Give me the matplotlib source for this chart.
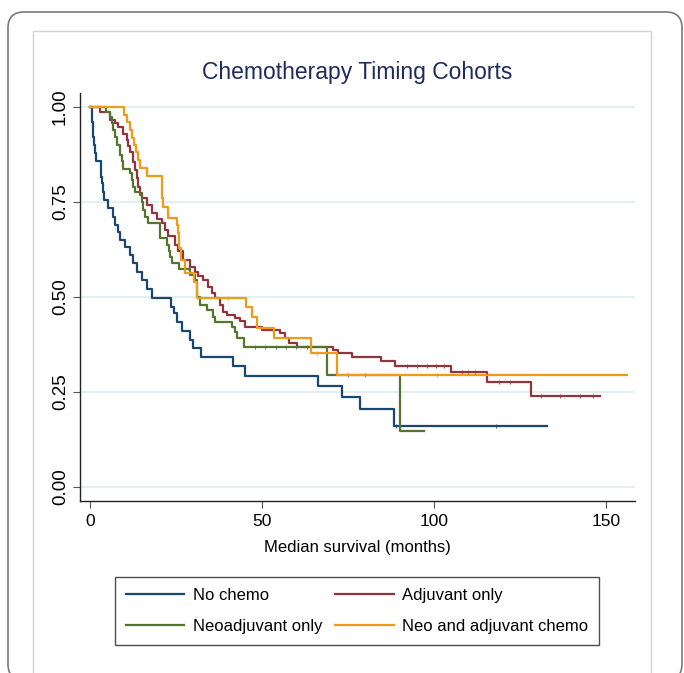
import matplotlib
matplotlib.use("Agg")
import matplotlib.pyplot as plt
from matplotlib.patches import FancyBboxPatch, Rectangle

plt.rcParams["font.family"] = ["Liberation Sans", "DejaVu Sans"]

# Kaplan-Meier step points (time in months, survival)
no_chemo_t = [0, 0.5, 0.8, 1.2, 1.5, 1.7, 3.1, 3.4, 3.9, 4.2, 5.3, 6.8, 7.3, 8.2, 8.7, 10.2,
              11.6, 12.6, 13.6, 15.0, 16.5, 18.0, 23.5, 24.5, 25.2, 26.6, 29.1, 30.0, 32.2,
              41.5, 45.0, 66.3, 73.2, 78.5, 88.4]
no_chemo_s = [1.0, 0.96, 0.92, 0.90, 0.88, 0.859, 0.817, 0.80, 0.777, 0.755, 0.734, 0.711,
              0.689, 0.672, 0.65, 0.632, 0.611, 0.589, 0.567, 0.545, 0.52, 0.497, 0.474,
              0.458, 0.435, 0.41, 0.387, 0.365, 0.342, 0.318, 0.292, 0.266, 0.238, 0.205,
              0.161]
no_chemo_end = 132.8
no_chemo_cens = [88.9, 118.0]

adj_t = [0, 2.9, 5.8, 7.3, 8.2, 9.5, 10.7, 11.1, 11.6, 12.6, 13.1, 13.6, 14.1, 14.6, 15.0,
         16.5, 17.9, 19.4, 20.8, 21.8, 22.8, 24.7, 25.7, 27.1, 29.1, 30.5, 31.5, 32.9, 34.4,
         35.4, 36.3, 37.8, 38.6, 39.7, 42.2, 43.6, 45.1, 49.9, 55.2, 56.7, 57.7, 60.1, 70.7,
         72.2, 76.1, 84.5, 88.7, 104.8, 115.5, 128.1]
adj_s = [1.0, 0.988, 0.967, 0.958, 0.948, 0.93, 0.913, 0.897, 0.882, 0.855, 0.834, 0.813,
         0.79, 0.773, 0.76, 0.742, 0.72, 0.706, 0.695, 0.676, 0.66, 0.637, 0.62, 0.597, 0.58,
         0.567, 0.556, 0.545, 0.527, 0.51, 0.497, 0.479, 0.461, 0.453, 0.445, 0.436, 0.422,
         0.413, 0.405, 0.392, 0.379, 0.369, 0.36, 0.352, 0.341, 0.331, 0.318, 0.302, 0.275,
         0.239]
adj_end = 148.3
adj_cens = [92.0, 95.0, 98.0, 100.5, 103.0, 108.0, 110.0, 112.0, 119.0, 122.0, 131.0,
            136.6, 142.4, 146.2]

neo_t = [0, 4.7, 5.8, 6.3, 6.8, 7.3, 7.8, 8.7, 9.2, 9.7, 11.6, 12.1, 12.6, 13.1, 14.5, 15.0,
         15.5, 16.0, 17.0, 20.3, 22.5, 23.0, 23.3, 23.7, 26.0, 29.1, 30.5, 31.0, 31.2, 32.0,
         33.9, 35.8, 36.3, 41.2, 42.2, 42.6, 44.8, 69.0, 90.1]
neo_s = [1.0, 0.988, 0.975, 0.958, 0.94, 0.922, 0.90, 0.874, 0.858, 0.837, 0.826, 0.808,
         0.79, 0.776, 0.768, 0.75, 0.729, 0.71, 0.695, 0.655, 0.637, 0.62, 0.606, 0.589,
         0.575, 0.558, 0.545, 0.52, 0.50, 0.479, 0.466, 0.448, 0.435, 0.422, 0.409, 0.392,
         0.369, 0.295, 0.147]
neo_end = 97.1
neo_cens = [48.0, 51.0, 54.0, 57.0, 60.0, 63.0, 75.0, 80.0]

both_t = [0, 10.0, 10.7, 11.6, 12.3, 12.8, 13.3, 14.0, 14.6, 16.5, 20.8, 21.3, 22.8, 25.2,
          25.6, 26.0, 26.5, 27.5, 30.2, 31.0, 45.3, 47.2, 48.6, 53.5, 64.2, 71.7]
both_s = [1.0, 0.979, 0.961, 0.939, 0.918, 0.90, 0.882, 0.861, 0.84, 0.818, 0.76, 0.738,
          0.709, 0.689, 0.668, 0.629, 0.597, 0.563, 0.54, 0.497, 0.474, 0.447, 0.419, 0.392,
          0.352, 0.295]
both_end = 156.0
both_cens = [40.0, 66.0, 100.8]

labels = ["No chemo", "Adjuvant only", "Neoadjuvant only", "Neo and adjuvant chemo"]
colors = ["#1a476f", "#90353b", "#55752f", "#f09a1a"]

W, H = 684, 673
fig = plt.figure(figsize=(W / 100, H / 100), dpi=100)

# card outline and inner panel
card = FancyBboxPatch((0.08, -0.07), 6.74, 6.68, boxstyle="round,pad=0,rounding_size=0.16",
                      transform=fig.dpi_scale_trans, fc="white", ec="#7a7a7a", lw=1.2, zorder=-2)
fig.add_artist(card)
panel = Rectangle((0.33, -0.1), 6.18, 6.52, transform=fig.dpi_scale_trans,
                  fc="white", ec="#d2d2d2", lw=1.0, zorder=-1)
fig.add_artist(panel)

ax = fig.add_axes([80 / W, 1 - 501 / H, 555 / W, 408 / H])
ax.set_facecolor("none")

series = [
    (no_chemo_t, no_chemo_s, no_chemo_end, no_chemo_cens),
    (adj_t, adj_s, adj_end, adj_cens),
    (neo_t, neo_s, neo_end, neo_cens),
    (both_t, both_s, both_end, both_cens),
]
handles = []
for (t, s, end, cens), lab, col in zip(series, labels, colors):
    tt = list(t) + [end]
    ss = list(s) + [s[-1]]
    h, = ax.step(tt, ss, where="post", color=col, lw=1.6, label=lab)
    handles.append(h)
    # censoring ticks: survival value at each censor time
    cy = []
    for c in cens:
        v = s[0]
        for ti, si in zip(t, s):
            if ti <= c:
                v = si
        cy.append(v)
    ax.plot(cens, cy, ls="none", marker="|", ms=3, mew=0.6, color=col)

ax.set_xlim(-2.9, 158.4)
ax.set_ylim(-0.037, 1.037)
ax.set_xticks([0, 50, 100, 150])
ax.set_yticks([0, 0.25, 0.5, 0.75, 1.0])
ax.set_yticklabels(["0.00", "0.25", "0.50", "0.75", "1.00"], rotation=90, va="center")
ax.grid(axis="y", color="#e6eef1", lw=1.5)
ax.set_axisbelow(True)
for side in ["top", "right"]:
    ax.spines[side].set_visible(False)
for side in ["left", "bottom"]:
    ax.spines[side].set_color("#222222")
    ax.spines[side].set_linewidth(1.0)
ax.tick_params(axis="both", length=5, width=0.8, color="#555555", labelsize=12.5, pad=4)
ax.tick_params(axis="y", labelsize=13.5, pad=3)
ax.set_xlabel("Median survival (months)", fontsize=12, labelpad=8)

fig.text(357 / W, 1 - 72 / H, "Chemotherapy Timing Cohorts", ha="center", va="center",
         fontsize=16.5, color="#1e2b5c")

# column-wise fill: col 1 = No chemo / Neoadjuvant, col 2 = Adjuvant / Neo and adjuvant
order = [0, 2, 1, 3]
leg = fig.legend(handles=[handles[i] for i in order], labels=[labels[i] for i in order],
                 loc="center", bbox_to_anchor=(357 / W, 1 - 611 / H), ncol=2,
                 fontsize=12, frameon=True, fancybox=False, edgecolor="#222222",
                 handlelength=3.5, handletextpad=0.5, columnspacing=0.8, labelspacing=0.95,
                 borderpad=0.65)
leg.get_frame().set_linewidth(1.0)

fig.savefig("out.png", dpi=100)
